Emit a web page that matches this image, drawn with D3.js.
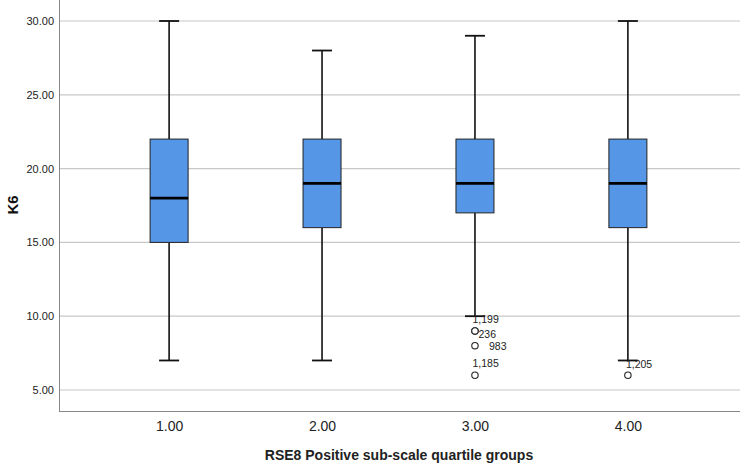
<!DOCTYPE html>
<html>
<head>
<meta charset="utf-8">
<script src="https://cdn.jsdelivr.net/npm/d3@7"></script>
<style>
  html, body { margin: 0; padding: 0; background: #ffffff; }
  svg { display: block; }
</style>
</head>
<body>
<svg id="chart" width="740" height="465"></svg>
<script>
// ---- data ----
const categories = ["1.00", "2.00", "3.00", "4.00"];
const whiskerLow  = [7, 7, 10, 7];
const q1          = [15, 16, 17, 16];
const medians     = [18, 19, 19, 19];
const q3          = [22, 22, 22, 22];
const whiskerHigh = [30, 28, 29, 30];
const outlierGroups = ["3.00", "3.00", "3.00", "3.00", "4.00"];
const outlierValues = [9, 9, 8, 6, 6];
const outlierIds    = ["1,199", "236", "983", "1,185", "1,205"];
const yTicks = [5, 10, 15, 20, 25, 30];
const xTitle = "RSE8 Positive sub-scale quartile groups";
const yTitle = "K6";

(function () {
// ---- layout ----
const svg = d3.select("#chart");
const left = 59, right = 740, bottom = 411, topY = 0;
const y = d3.scaleLinear().domain([5, 30]).range([390, 21]);
const x = d3.scalePoint().domain(categories).range([left, 738]).padding(0.72);
const boxW = 38, capW = 20;
const font = "'Liberation Sans', Arial, sans-serif";
// label placement offsets (relative to point) for outlier ids, in order
const labelOffsets = [[-2.5, -11.5], [3.5, 3], [14, 0], [-2.5, -12], [-2, -11.5]];

// gridlines
svg.append("g").selectAll("line").data(yTicks).join("line")
  .attr("x1", left).attr("x2", right)
  .attr("y1", d => y(d)).attr("y2", d => y(d))
  .attr("stroke", "#c8c8c8").attr("stroke-width", 1.2);

// y axis
const yAxis = d3.axisLeft(y).tickValues(yTicks).tickFormat(d3.format(".2f")).tickSize(0).tickPadding(5);
const gy = svg.append("g").attr("transform", `translate(${left},0)`).call(yAxis);
gy.select(".domain").remove();
gy.selectAll("text").attr("font-family", font).attr("font-size", 11).attr("fill", "#222");

// x axis
const xAxis = d3.axisBottom(x).tickSize(0).tickPadding(10);
const gx = svg.append("g").attr("transform", `translate(0,${bottom})`).call(xAxis);
gx.select(".domain").remove();
gx.selectAll("text").attr("font-family", font).attr("font-size", 14).attr("fill", "#222");

// axis lines
svg.append("line").attr("x1", left + 0.5).attr("x2", left + 0.5).attr("y1", topY).attr("y2", bottom)
  .attr("stroke", "#888").attr("stroke-width", 1);
svg.append("line").attr("x1", left).attr("x2", right).attr("y1", bottom + 0.5).attr("y2", bottom + 0.5)
  .attr("stroke", "#888").attr("stroke-width", 1);

// boxes
const groups = categories.map((c, i) => ({
  c, lo: whiskerLow[i], q1: q1[i], med: medians[i], q3: q3[i], hi: whiskerHigh[i]
}));
const g = svg.append("g").selectAll("g").data(groups).join("g");
// whiskers
g.append("line").attr("x1", d => x(d.c)).attr("x2", d => x(d.c))
  .attr("y1", d => y(d.hi)).attr("y2", d => y(d.q3)).attr("stroke", "#111").attr("stroke-width", 1.6);
g.append("line").attr("x1", d => x(d.c)).attr("x2", d => x(d.c))
  .attr("y1", d => y(d.q1)).attr("y2", d => y(d.lo)).attr("stroke", "#111").attr("stroke-width", 1.6);
// caps
g.append("line").attr("x1", d => x(d.c) - capW / 2).attr("x2", d => x(d.c) + capW / 2)
  .attr("y1", d => y(d.hi)).attr("y2", d => y(d.hi)).attr("stroke", "#111").attr("stroke-width", 1.8);
g.append("line").attr("x1", d => x(d.c) - capW / 2).attr("x2", d => x(d.c) + capW / 2)
  .attr("y1", d => y(d.lo)).attr("y2", d => y(d.lo)).attr("stroke", "#111").attr("stroke-width", 1.8);
// box
g.append("rect").attr("x", d => x(d.c) - boxW / 2).attr("width", boxW)
  .attr("y", d => y(d.q3)).attr("height", d => y(d.q1) - y(d.q3))
  .attr("fill", "#5596e6").attr("stroke", "#222").attr("stroke-width", 1);
// median
g.append("line").attr("x1", d => x(d.c) - boxW / 2).attr("x2", d => x(d.c) + boxW / 2)
  .attr("y1", d => y(d.med)).attr("y2", d => y(d.med)).attr("stroke", "#000").attr("stroke-width", 2.6);

// outliers
const outliers = outlierValues.map((v, i) => ({ c: outlierGroups[i], v, id: outlierIds[i], off: labelOffsets[i] }));
svg.append("g").selectAll("circle").data(outliers).join("circle")
  .attr("cx", d => x(d.c)).attr("cy", d => y(d.v)).attr("r", 3.2)
  .attr("fill", "#fff").attr("stroke", "#222").attr("stroke-width", 1.1);
svg.append("g").selectAll("text").data(outliers).join("text")
  .attr("x", d => x(d.c) + d.off[0]).attr("y", d => y(d.v) + d.off[1])
  .attr("dominant-baseline", "central")
  .attr("font-family", font).attr("font-size", 10.5).attr("fill", "#222")
  .text(d => d.id);

// titles
svg.append("text").attr("x", 399).attr("y", 460)
  .attr("text-anchor", "middle").attr("font-family", font).attr("font-size", 14).attr("font-weight", "bold")
  .attr("fill", "#222").text(xTitle);
svg.append("text").attr("transform", "translate(18,205) rotate(-90)")
  .attr("text-anchor", "middle").attr("font-family", font).attr("font-size", 15).attr("font-weight", "bold")
  .attr("fill", "#111").text(yTitle);
})();
</script>
</body>
</html>
